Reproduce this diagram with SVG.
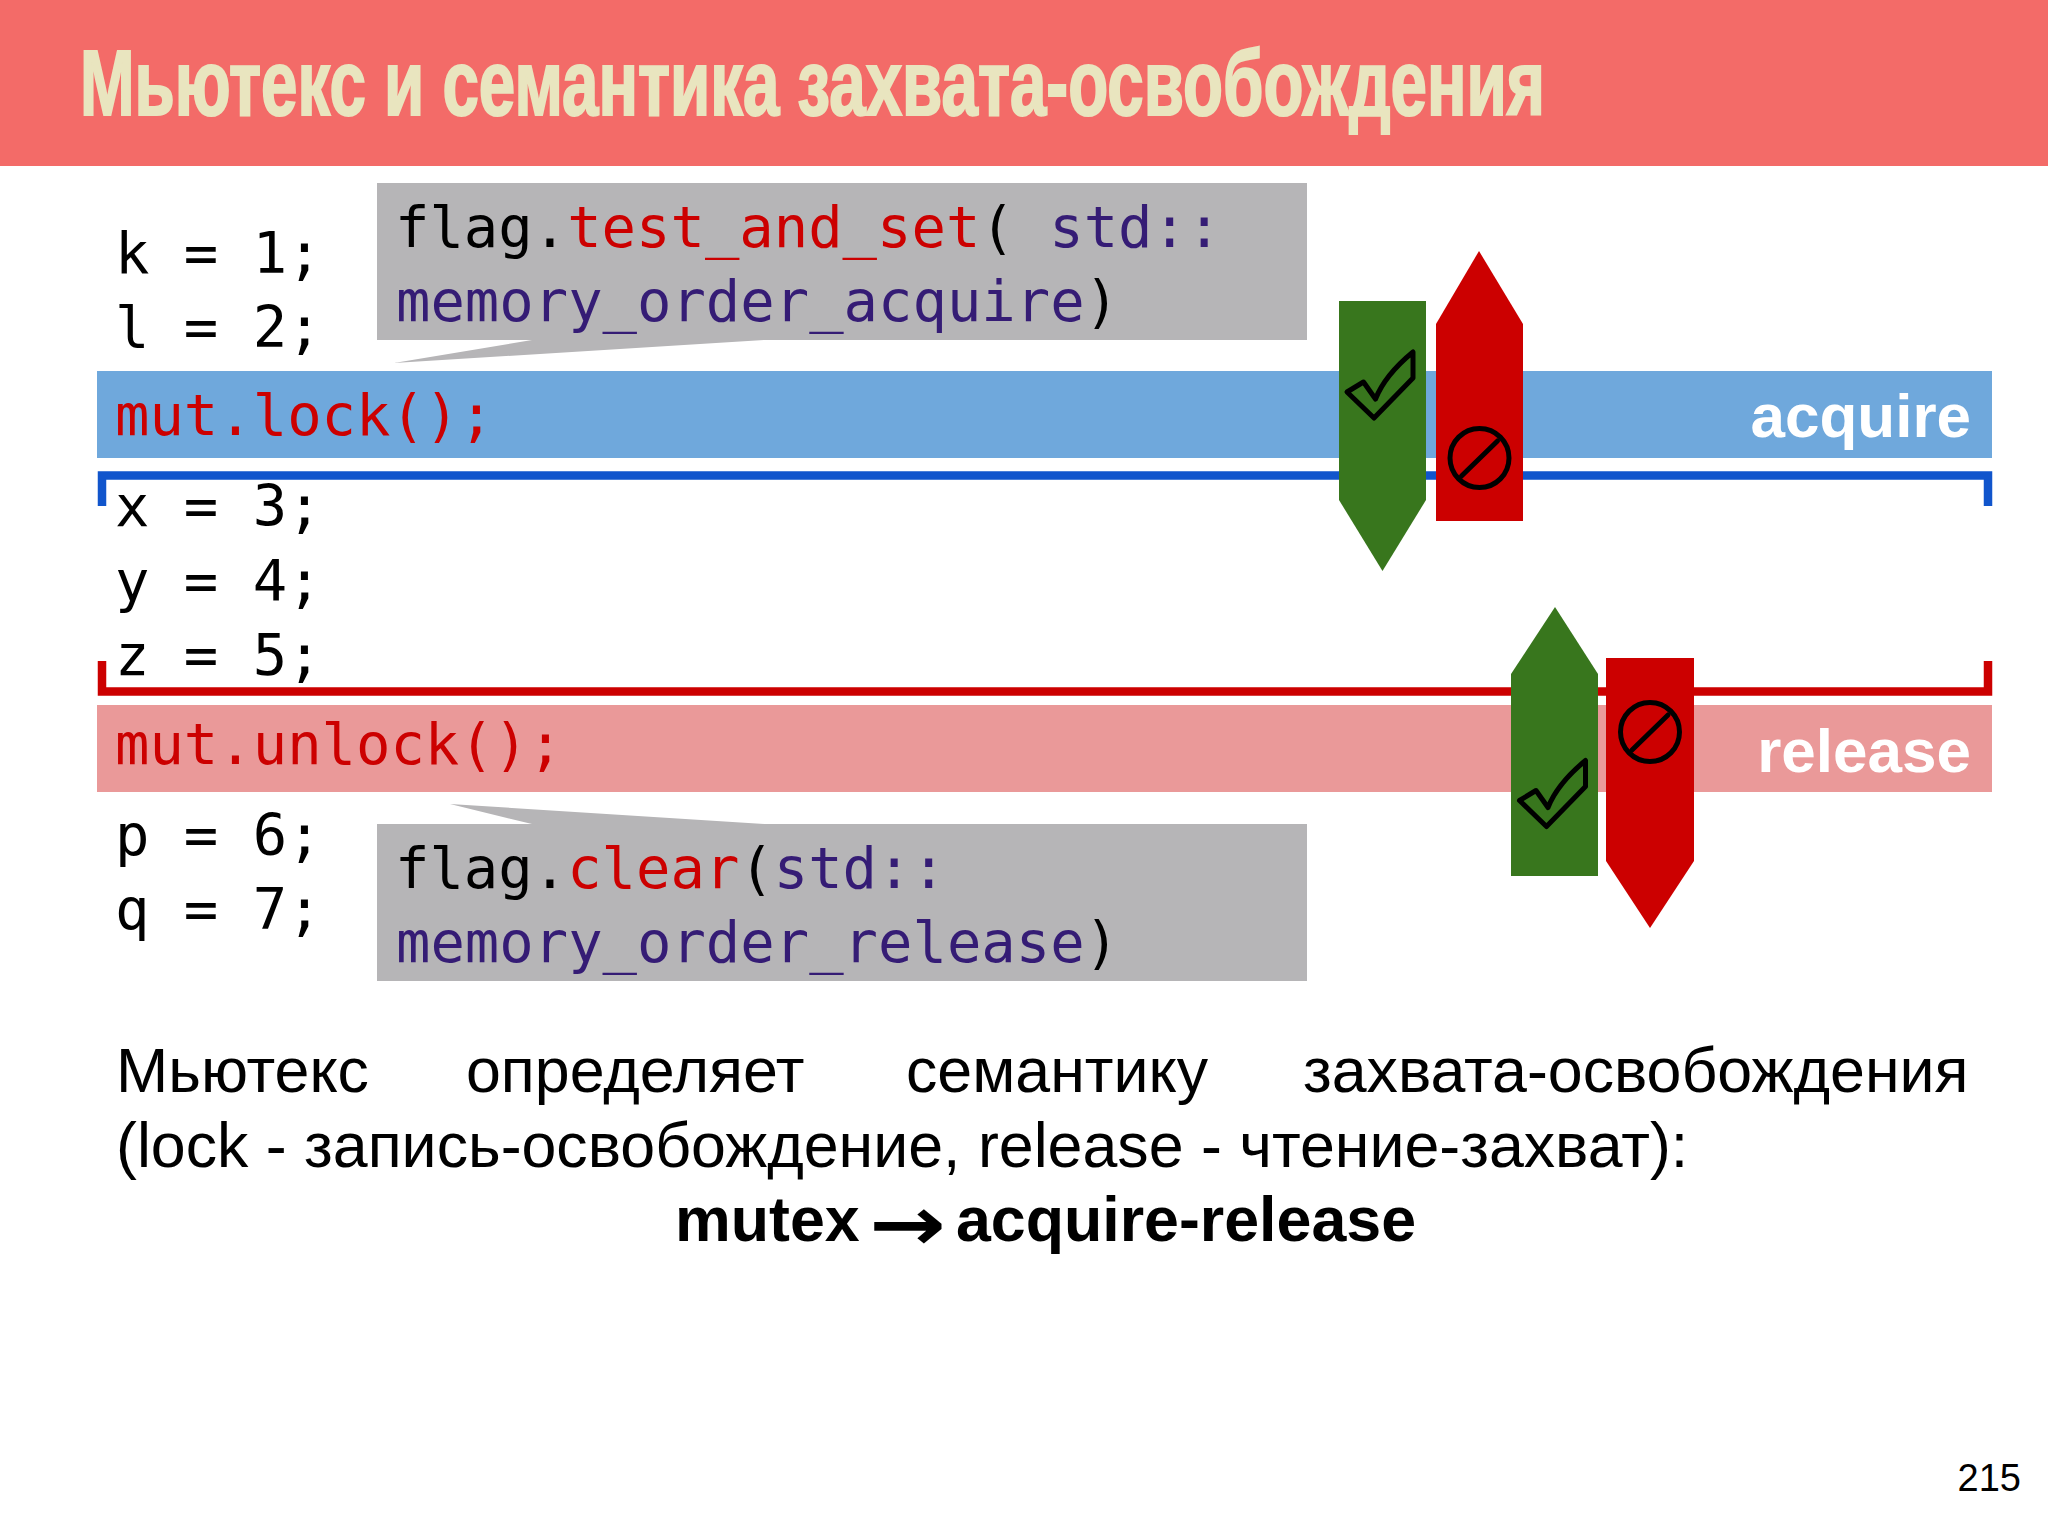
<svg xmlns="http://www.w3.org/2000/svg" width="2048" height="1536" viewBox="0 0 2048 1536">
<defs>
<style>
.m{font-family:"DejaVu Sans Mono","Liberation Mono",monospace;font-size:57.200px;fill:#000}
.r{fill:#cc0000}.n{fill:#351c75}
.b{font-family:"Liberation Sans",Arial,sans-serif;font-size:62.700px;fill:#000}
.l{font-family:"Liberation Sans",Arial,sans-serif;font-size:62px;font-weight:bold;fill:#fff;text-anchor:end}
.i{fill:none;stroke:#000;stroke-width:5;stroke-linejoin:round;stroke-linecap:round}
.g{fill:#b6b5b7}
</style>
<g id="check"><path class="i" d="M1347 392L1363.500 382L1375.500 399Q1385 375 1413 352V378L1374 418Z"/></g>
<g id="nosign"><circle class="i" cx="0" cy="0" r="29.500"/><path class="i" d="M-18 18L18 -17"/></g>
</defs>
<rect width="2048" height="1536" fill="#fff"/>
<g id="title"><rect width="2048" height="166" fill="#f36b68"/>
<text transform="translate(80 115) scale(1 1.045)" x="0" y="0" font-family="'Liberation Sans',Arial,sans-serif" font-weight="bold" font-size="88" fill="#e9e5bf" stroke="#e9e5bf" stroke-width="2" textLength="1465" lengthAdjust="spacingAndGlyphs">Мьютекс и семантика захвата-освобождения</text></g>
<g id="acquire-bar"><rect x="97" y="371" width="1895" height="87" fill="#6fa8dc"/>
<text class="m r" x="115" y="435">mut.lock();</text><text class="l" x="1971" y="437">acquire</text></g>
<g id="release-bar"><rect x="97" y="705" width="1895" height="87" fill="#ea9999"/>
<text class="m r" x="115" y="764">mut.unlock();</text><text class="l" x="1971" y="772">release</text></g>
<g id="connectors">
<path d="M102 506V475.500H1988V506" fill="none" stroke="#1155cc" stroke-width="8.500"/>
<path d="M102 661V691.500H1988V661" fill="none" stroke="#cc0000" stroke-width="8.500"/>
</g>
<g id="code">
<text class="m" x="115" y="273">k = 1;</text>
<text class="m" x="115" y="347">l = 2;</text>
<text class="m" x="115" y="526">x = 3;</text>
<text class="m" x="115" y="601">y = 4;</text>
<text class="m" x="115" y="675">z = 5;</text>
<text class="m" x="115" y="855">p = 6;</text>
<text class="m" x="115" y="929">q = 7;</text>
</g>
<g id="callout-acquire"><path class="g" d="M377 183H1307V340H764L394 363L532 340H377Z"/>
<text class="m" x="395" y="247">flag.<tspan class="r">test_and_set</tspan>( <tspan class="n">std::</tspan></text>
<text class="m n" x="396" y="321">memory_order_acquire<tspan fill="#000">)</tspan></text></g>
<g id="callout-release"><path class="g" d="M377 824H532L450 804L764 824H1307V981H377Z"/>
<text class="m" x="395" y="888">flag.<tspan class="r">clear</tspan>(<tspan class="n">std::</tspan></text>
<text class="m n" x="396" y="962">memory_order_release<tspan fill="#000">)</tspan></text></g>
<g id="arrow-green-down"><path fill="#38761d" d="M1339 301H1426V500L1382.500 571L1339 500Z"/><use href="#check"/></g>
<g id="arrow-red-up"><path fill="#cc0000" d="M1479 251L1523 324V521H1436V324Z"/><use href="#nosign" x="1479.500" y="458"/></g>
<g id="arrow-green-up"><path fill="#38761d" d="M1555 607L1598 674V876H1511V674Z"/><use href="#check" x="172.500" y="408.500"/></g>
<g id="arrow-red-down"><path fill="#cc0000" d="M1606 658H1694V861L1650 928L1606 861Z"/><use href="#nosign" x="1650" y="732"/></g>
<g id="body">
<text class="b" x="116" y="1092">Мьютекс</text><text class="b" x="466" y="1092">определяет</text><text class="b" x="906" y="1092">семантику</text><text class="b" x="1303" y="1092">захвата-освобождения</text>
<text class="b" x="116" y="1167">(lock - запись-освобождение, release - чтение-захват):</text>
<text class="b" x="675" y="1241" font-weight="bold">mutex</text><text x="869" y="1250" font-family="'DejaVu Sans',sans-serif" font-weight="bold" font-size="76" fill="#000" textLength="77" lengthAdjust="spacingAndGlyphs">→</text><text class="b" x="956" y="1241" font-weight="bold">acquire-release</text>
</g>
<text id="page" x="2021" y="1491" font-family="'Liberation Sans',Arial,sans-serif" font-size="38" text-anchor="end" fill="#000">215</text>
</svg>
